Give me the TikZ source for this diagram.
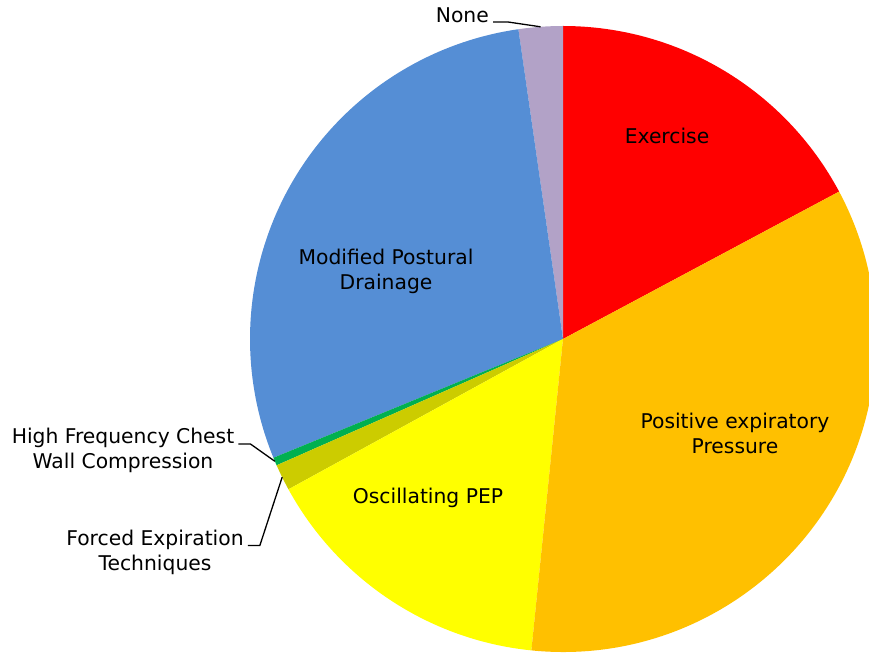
\documentclass[tikz,border=0pt]{standalone}
\usepackage{fontspec}
\setmainfont{DejaVu Sans}

\definecolor{exercisered}{RGB}{255,0,0}
\definecolor{pepgold}{RGB}{255,192,0}
\definecolor{oscyellow}{RGB}{255,255,0}
\definecolor{fetolive}{RGB}{204,204,0}
\definecolor{hfcgreen}{RGB}{0,176,80}
\definecolor{drainblue}{RGB}{85,142,213}
\definecolor{nonelilac}{RGB}{178,162,199}

\begin{document}
\begin{tikzpicture}[x=1pt,y=1pt]
	\tikzset{lbl/.style={font=\fontsize{20.3}{25}\selectfont,align=center,inner sep=0pt}}
	\tikzset{leader/.style={draw=black,line width=1.3pt}}

	\useasboundingbox (0,0) rectangle (869,654);
	\coordinate (c) at (563,315);

	% slices, counter-clockwise
	\fill[exercisered] (c) -- ++(28.1:313) arc[start angle=28.1,end angle=90,radius=313] -- cycle;
	\fill[nonelilac] (c) -- ++(90:313) arc[start angle=90,end angle=98.2,radius=313] -- cycle;
	\fill[drainblue] (c) -- ++(98.2:313) arc[start angle=98.2,end angle=202.3,radius=313] -- cycle;
	\fill[hfcgreen] (c) -- ++(202.3:313) arc[start angle=202.3,end angle=203.8,radius=313] -- cycle;
	\fill[fetolive] (c) -- ++(203.8:313) arc[start angle=203.8,end angle=208.7,radius=313] -- cycle;
	\fill[oscyellow] (c) -- ++(208.7:313) arc[start angle=208.7,end angle=264.2,radius=313] -- cycle;
	\fill[pepgold] (c) -- ++(264.2:313) arc[start angle=264.2,end angle=388.1,radius=313] -- cycle;

	\node[lbl] (exercise) at (667,518) {Exercise};
	\node[lbl] (pep) at (735,221) {Positive expiratory\\Pressure};
	\node[lbl] (osc) at (428,156) {Oscillating PEP};
	\node[lbl] (mpd) at (386,383) {Modified Postural\\Drainage};
	\node[lbl,anchor=east] (none) at (489,639) {None};
	\node[lbl] (hfc) at (123,204) {High Frequency Chest\\Wall Compression};
	\node[lbl] (fet) at (155,102) {Forced Expiration\\Techniques};

	% leader lines
	\path (c) ++(94.1:313) coordinate (none tip);
	\path (c) ++(203:313) coordinate (hfc tip);
	\path (c) ++(206.2:313) coordinate (fet tip);
	\draw[leader] ([shift={(4,-7)}]none.east) -- ++(15,0) -- (none tip);
	\draw[leader] ([shift={(4,6)}]hfc.east) -- ++(12,0) -- (hfc tip);
	\draw[leader] ([shift={(4,6.5)}]fet.east) -- ++(12,0) -- (fet tip);
\end{tikzpicture}
\end{document}
